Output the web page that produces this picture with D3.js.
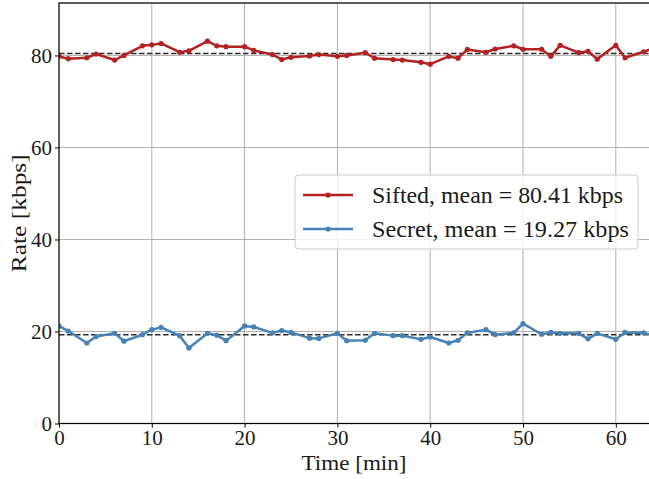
<!DOCTYPE html>
<html>
<head>
<meta charset="utf-8">
<script src="https://cdn.jsdelivr.net/npm/d3@7"></script>
<style>
  html, body { margin: 0; padding: 0; background: #fff; }
  svg { display: block; }
  text { font-family: "Liberation Serif", "DejaVu Serif", serif; fill: #1a1a1a; }
</style>
</head>
<body>
<div id="chart"></div>
<script>
// Measurement times (minutes)
const times = [0, 1, 3, 4, 6, 7, 9, 10, 11, 13, 14, 16, 17, 18, 20, 21, 23, 24, 25, 27, 28, 30,
               31, 33, 34, 36, 37, 39, 40, 42, 43, 44, 46, 47, 49, 50, 52, 53, 54, 56, 57, 58,
               60, 61, 63, 64];

// Sifted key rate (kbps)
const sifted = [79.8, 79.3, 79.5, 80.3, 79.0, 80.0, 82.1, 82.3, 82.6, 80.7, 81.0, 83.1, 82.1, 81.9,
                81.9, 81.1, 80.2, 79.1, 79.6, 79.9, 80.2, 79.8, 80.0, 80.6, 79.4, 79.1, 79.0, 78.5,
                78.1, 79.8, 79.4, 81.3, 80.7, 81.4, 82.1, 81.35, 81.35, 79.8, 82.2, 80.6, 80.9, 79.2,
                82.2, 79.5, 80.8, 81.5];

// Secret key rate (kbps)
const secret = [21.2, 20.1, 17.5, 18.9, 19.6, 17.9, 19.3, 20.4, 20.9, 19.1, 16.4, 19.6, 19.2, 18.0,
                21.2, 21.0, 19.7, 20.2, 19.8, 18.55, 18.5, 19.6, 18.0, 18.1, 19.6, 19.1, 19.1, 18.3,
                18.8, 17.5, 18.1, 19.7, 20.4, 19.3, 19.7, 21.7, 19.4, 19.8, 19.6, 19.6, 18.4, 19.6,
                18.3, 19.8, 19.7, 19.2];

const siftedMean = 80.41;
const secretMean = 19.27;

const xTicks = [0, 10, 20, 30, 40, 50, 60];
const yTicks = [0, 20, 40, 60, 80];

const seriesNames = ["Sifted", "Secret"];
const seriesColors = ["#b22222", "#4682b4"];

const W = 649, H = 479;
const pLeft = 59, pTop = 3, pBottom = 423.5;
const pRight = pLeft + 64 * 9.28;   // plot area runs past the canvas edge

const x = d3.scaleLinear().domain([0, 64]).range([pLeft, pRight]);
const y = d3.scaleLinear().domain([0, 91.4]).range([pBottom, pTop]);

const svg = d3.select("#chart").append("svg")
  .attr("width", W).attr("height", H);

svg.append("defs").append("clipPath").attr("id", "plot-clip")
  .append("rect").attr("x", pLeft).attr("y", pTop)
  .attr("width", pRight - pLeft).attr("height", pBottom - pTop);

// Grid
const grid = svg.append("g").attr("stroke", "#b0b0b0").attr("stroke-width", 1);
grid.selectAll("line.gx").data(xTicks.filter(d => d > 0)).join("line")
  .attr("class", "gx")
  .attr("x1", d => x(d)).attr("x2", d => x(d)).attr("y1", pTop).attr("y2", pBottom);
grid.selectAll("line.gy").data(yTicks.filter(d => d > 0)).join("line")
  .attr("class", "gy")
  .attr("x1", pLeft).attr("x2", pRight).attr("y1", d => y(d)).attr("y2", d => y(d));

// Mean reference lines
const plot = svg.append("g").attr("clip-path", "url(#plot-clip)");
plot.selectAll("line.mean").data([siftedMean, secretMean]).join("line")
  .attr("class", "mean")
  .attr("x1", pLeft).attr("x2", pRight)
  .attr("y1", d => y(d)).attr("y2", d => y(d))
  .attr("stroke", "#2b2b2b").attr("stroke-width", 1.5)
  .attr("stroke-dasharray", "5.5,2.5");

// Series lines with markers
const seriesData = [sifted, secret];
const line = d3.line().x((d, i) => x(times[i])).y(d => y(d));
seriesData.forEach((vals, k) => {
  plot.append("path").datum(vals)
    .attr("d", line).attr("fill", "none")
    .attr("stroke", seriesColors[k]).attr("stroke-width", 2.5)
    .attr("stroke-linejoin", "round");
  plot.append("g").selectAll("circle").data(vals).join("circle")
    .attr("cx", (d, i) => x(times[i])).attr("cy", d => y(d))
    .attr("r", 2.6).attr("fill", seriesColors[k]);
});

// Axes
const xAxis = d3.axisBottom(x).tickValues(xTicks).tickSize(4).tickPadding(3);
const yAxis = d3.axisLeft(y).tickValues(yTicks).tickSize(4).tickPadding(3);

const gx = svg.append("g").attr("transform", `translate(0,${pBottom})`).call(xAxis);
const gy = svg.append("g").attr("transform", `translate(${pLeft},0)`).call(yAxis);
[gx, gy].forEach(g => {
  g.select(".domain").remove();
  g.selectAll(".tick line").attr("stroke", "#000").attr("stroke-width", 1);
  g.selectAll(".tick text").attr("font-size", 21)
    .attr("font-family", "Liberation Serif").attr("fill", "#1a1a1a");
});

// Frame
svg.append("rect").attr("x", pLeft).attr("y", pTop)
  .attr("width", pRight - pLeft).attr("height", pBottom - pTop)
  .attr("fill", "none").attr("stroke", "#000").attr("stroke-width", 1.25);

// Axis titles
svg.append("text").attr("x", (pLeft + W) / 2).attr("y", 470)
  .attr("text-anchor", "middle").attr("font-size", 22)
  .attr("textLength", 105).attr("lengthAdjust", "spacingAndGlyphs")
  .text("Time [min]");
svg.append("text")
  .attr("transform", `translate(26,${(pTop + pBottom) / 2}) rotate(-90)`)
  .attr("text-anchor", "middle").attr("font-size", 22)
  .attr("textLength", 118).attr("lengthAdjust", "spacingAndGlyphs")
  .text("Rate [kbps]");

// Legend
const legend = svg.append("g");
legend.append("rect").attr("x", 295).attr("y", 175).attr("width", 343).attr("height", 74)
  .attr("rx", 4).attr("fill", "#fff").attr("fill-opacity", 0.8)
  .attr("stroke", "#ccc").attr("stroke-width", 1);
const labels = [
  `${seriesNames[0]}, mean = ${siftedMean.toFixed(2)} kbps`,
  `${seriesNames[1]}, mean = ${secretMean.toFixed(2)} kbps`
];
const labelWidths = [251, 257];
labels.forEach((t, k) => {
  const cy = 195 + k * 34;
  legend.append("line").attr("x1", 303).attr("x2", 353).attr("y1", cy).attr("y2", cy)
    .attr("stroke", seriesColors[k]).attr("stroke-width", 2.5);
  legend.append("circle").attr("cx", 328).attr("cy", cy).attr("r", 2.6).attr("fill", seriesColors[k]);
  legend.append("text").attr("x", 372).attr("y", cy + 7.5).attr("font-size", 23)
    .attr("textLength", labelWidths[k]).attr("lengthAdjust", "spacingAndGlyphs")
    .text(t);
});
</script>
</body>
</html>
